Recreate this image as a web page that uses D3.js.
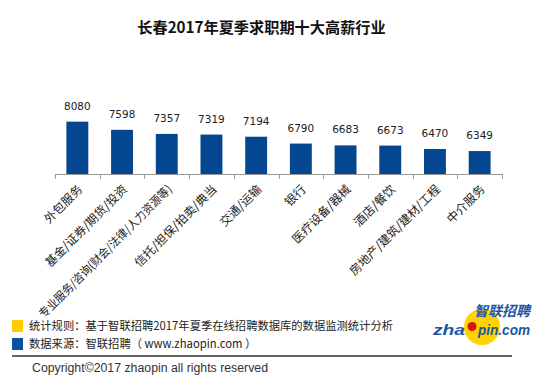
<!DOCTYPE html>
<html><head><meta charset="utf-8">
<script src="https://cdn.jsdelivr.net/npm/d3@7"></script>
<style>body{margin:0;background:#fff}svg{display:block}</style>
</head><body>
<script>
const title = "长春2017年夏季求职期十大高薪行业";
const categories = ["外包服务","基金/证券/期货/投资","专业服务/咨询(财会/法律/人力资源等)","信托/担保/拍卖/典当","交通/运输","银行","医疗设备/器械","酒店/餐饮","房地产/建筑/建材/工程","中介服务"];
const values = [8080,7598,7357,7319,7194,6790,6683,6673,6470,6349];
const legendItems = ["统计规则：基于智联招聘2017年夏季在线招聘数据库的数据监测统计分析","数据来源：智联招聘（ www.zhaopin.com ）"];
const legendColors = ["#FFCC00","#0B4EA2"];
const copyright = "Copyright©2017 zhaopin all rights reserved";

const W=550,H=385;
const svg=d3.select("body").append("svg").attr("width",W).attr("height",H);
const cjk='"Noto Sans CJK SC","Liberation Sans",sans-serif';

svg.append("text").attr("x",261.5).attr("y",33).attr("text-anchor","middle")
  .attr("font-family",cjk).attr("font-weight","bold").attr("font-size",15.2).attr("fill","#111").text(title);

const x=d3.scaleBand().domain(categories).range([55,502]).paddingInner(0.51).paddingOuter(0.255);
const y=d3.scaleLinear().domain([5000,9000]).range([174,106]);

const g=svg.append("g");
g.selectAll("rect.bar").data(values).join("rect").attr("class","bar")
  .attr("x",(d,i)=>x(categories[i])).attr("width",x.bandwidth())
  .attr("y",d=>y(d)).attr("height",d=>y(5000)-y(d)).attr("fill","#04468F");

g.selectAll("text.val").data(values).join("text").attr("class","val")
  .attr("x",(d,i)=>x(categories[i])+x.bandwidth()/2).attr("y",d=>y(d)-12)
  .attr("text-anchor","middle").attr("font-family","DejaVu Sans").attr("font-size",10.5).attr("fill","#222").text(d=>d);

// axis
const axis=d3.axisBottom(x).tickSize(0).tickFormat("");
const ag=svg.append("g").attr("transform","translate(0,174)").call(axis);
ag.select(".domain").attr("stroke","#999").attr("d","M55,0.5H502");
const step=x.step();
const bounds=d3.range(categories.length+1).map(i=>55+i*step);
ag.selectAll("line.tk").data(bounds).join("line").attr("class","tk")
  .attr("x1",d=>Math.round(d)+0.5).attr("x2",d=>Math.round(d)+0.5).attr("y1",0).attr("y2",5).attr("stroke","#999");

const maxLen=182;
ag.selectAll("text.cat").data(categories).join("text").attr("class","cat")
  .attr("transform",d=>`translate(${x(d)+x.bandwidth()/2+3},${13}) rotate(-45)`)
  .attr("text-anchor","end").attr("dy","0.35em")
  .attr("font-family",cjk).attr("font-size",12).attr("fill","#222").text(d=>d)
  .each(function(){
    if(this.getComputedTextLength()>maxLen){
      d3.select(this).attr("textLength",maxLen).attr("lengthAdjust","spacingAndGlyphs");
    }
  });

// legend
const lg=svg.append("g");
legendItems.forEach((t,i)=>{
  lg.append("rect").attr("x",12).attr("y",320+i*18).attr("width",11).attr("height",12).attr("fill",legendColors[i]);
  lg.append("text").attr("x",29).attr("y",330+i*18).attr("font-family",cjk).attr("font-size",11.3).attr("fill","#222").text(t);
});
svg.append("line").attr("x1",12).attr("x2",512).attr("y1",356).attr("y2",356).attr("stroke","#666").attr("stroke-width",2);
svg.append("text").attr("x",32).attr("y",372).attr("font-family","Liberation Sans").attr("font-size",12.3).attr("fill","#333").text(copyright);

// logo
const logo=svg.append("g");
logo.append("circle").attr("cx",482).attr("cy",327).attr("r",18).attr("fill","#FFD200");
logo.append("text").attr("x",530).attr("y",316).attr("text-anchor","end").attr("font-family",cjk).attr("font-weight","bold").attr("font-style","italic").attr("font-size",14).attr("fill","#1D56A8").text("智联招聘");
logo.append("text").attr("x",433).attr("y",334.5).attr("font-family","Liberation Sans").attr("font-weight","bold").attr("font-style","italic").attr("font-size",15).attr("fill","#1D56A8")
  .attr("textLength",32).attr("lengthAdjust","spacingAndGlyphs").text("zha");
logo.append("text").attr("x",478).attr("y",334.5).attr("font-family","Liberation Sans").attr("font-weight","bold").attr("font-style","italic").attr("font-size",15).attr("fill","#1D56A8")
  .attr("textLength",52).attr("lengthAdjust","spacingAndGlyphs").text("pin.com");
logo.append("circle").attr("cx",472).attr("cy",326.5).attr("r",4.5).attr("fill","#D7141A");
</script>
</body></html>
